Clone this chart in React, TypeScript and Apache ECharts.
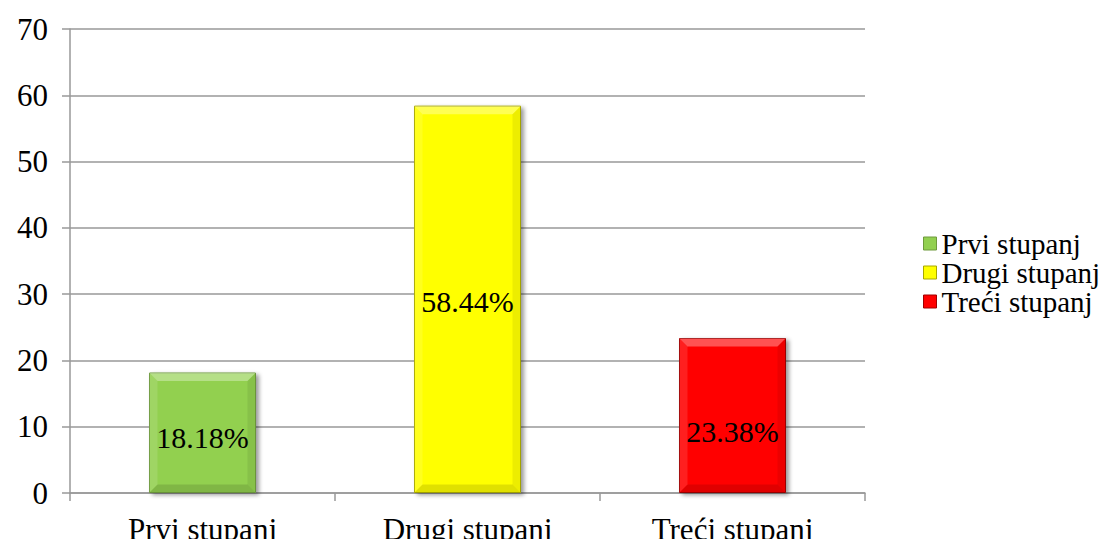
import React, { useEffect, useRef } from "react";
import * as echarts from "echarts";

const categories = ["Prvi stupanj", "Drugi stupanj", "Treći stupanj"];
const values = [18.18, 58.44, 23.38];
const labels = ["18.18%", "58.44%", "23.38%"];
const colors = ["#92D050", "#FFFF00", "#FF0000"];
const borders = ["#6E9A3C", "#A8A800", "#A00000"];
const labelOffsets = [[0, 5], [0, 2], [0, 16]];
const yTicks = { min: 0, max: 70, interval: 10 };

const FONT = "Liberation Serif";
const BAR_W = 107;
const BEVEL = 8;

export default function App() {
  const ref = useRef<HTMLDivElement>(null);
  useEffect(() => {
    const chart = echarts.init(ref.current!, null, { renderer: "svg" });
    const series: any[] = categories.map((name, i) => ({
      name,
      type: "bar",
      z: 2,
      barWidth: BAR_W,
      barGap: "-100%",
      data: categories.map((_, j) =>
        j === i
          ? {
              value: values[i],
              label: {
                show: true,
                position: "inside",
                formatter: labels[i],
                offset: labelOffsets[i],
                color: "#000",
                fontFamily: FONT,
                fontSize: 30,
              },
            }
          : null
      ),
      itemStyle: {
        color: colors[i],
        borderColor: borders[i],
        borderWidth: 1,
        shadowColor: "rgba(0,0,0,0.4)",
        shadowBlur: 4,
        shadowOffsetX: 3,
        shadowOffsetY: 2,
      },
    }));
    series.push({
      type: "custom",
      z: 3,
      silent: true,
      data: values.map((v, i) => [i, v]),
      renderItem: (params: any, api: any) => {
        const idx = api.value(0);
        const top = api.coord([idx, api.value(1)]);
        const bottom = api.coord([idx, 0]);
        const x0 = top[0] - BAR_W / 2 + 0.5;
        const x1 = top[0] + BAR_W / 2 - 0.5;
        const y0 = top[1] + 0.5;
        const y1 = bottom[1] - 0.5;
        const b = BEVEL;
        return {
          type: "group",
          children: [
            {
              type: "polygon",
              shape: { points: [[x0, y0], [x1, y0], [x1 - b, y0 + b], [x0 + b, y0 + b]] },
              style: { fill: "rgba(255,255,255,0.32)" },
            },
            {
              type: "polygon",
              shape: { points: [[x0, y0], [x0 + b, y0 + b], [x0 + b, y1 - b], [x0, y1]] },
              style: { fill: "rgba(255,255,255,0.12)" },
            },
            {
              type: "polygon",
              shape: { points: [[x1, y0], [x1, y1], [x1 - b, y1 - b], [x1 - b, y0 + b]] },
              style: { fill: "rgba(0,0,0,0.07)" },
            },
            {
              type: "polygon",
              shape: { points: [[x0, y1], [x0 + b, y1 - b], [x1 - b, y1 - b], [x1, y1]] },
              style: { fill: "rgba(0,0,0,0.12)" },
            },
          ],
        };
      },
    });
    chart.setOption({
      animation: false,
      backgroundColor: "#fff",
      textStyle: { fontFamily: FONT },
      grid: { left: 70, right: 250, top: 29, bottom: 54, containLabel: false },
      legend: {
        orient: "vertical",
        left: 923,
        top: 229,
        padding: 0,
        itemWidth: 13,
        itemHeight: 13,
        itemGap: 0,
        icon: "rect",
        data: categories,
        itemStyle: { borderWidth: 1, borderColor: "inherit" },
        textStyle: {
          color: "#000",
          fontFamily: FONT,
          fontSize: 29,
          lineHeight: 29,
        },
      },
      xAxis: {
        type: "category",
        data: categories,
        axisLine: { lineStyle: { color: "#999", width: 1.5 } },
        axisTick: { show: true, length: 8, lineStyle: { color: "#999", width: 1.5 } },
        axisLabel: { color: "#000", fontFamily: FONT, fontSize: 31, margin: 21 },
      },
      yAxis: {
        type: "value",
        min: yTicks.min,
        max: yTicks.max,
        interval: yTicks.interval,
        axisLine: { show: true, lineStyle: { color: "#999", width: 1.5 } },
        axisTick: { show: true, length: 8, lineStyle: { color: "#999", width: 1.5 } },
        axisLabel: { color: "#000", fontFamily: FONT, fontSize: 31, margin: 22 },
        splitLine: { lineStyle: { color: "#999", width: 1.5 } },
      },
      series,
    });
    return () => chart.dispose();
  }, []);
  return <div ref={ref} style={{ width: 1115, height: 547, margin: -8 }} />;
}
